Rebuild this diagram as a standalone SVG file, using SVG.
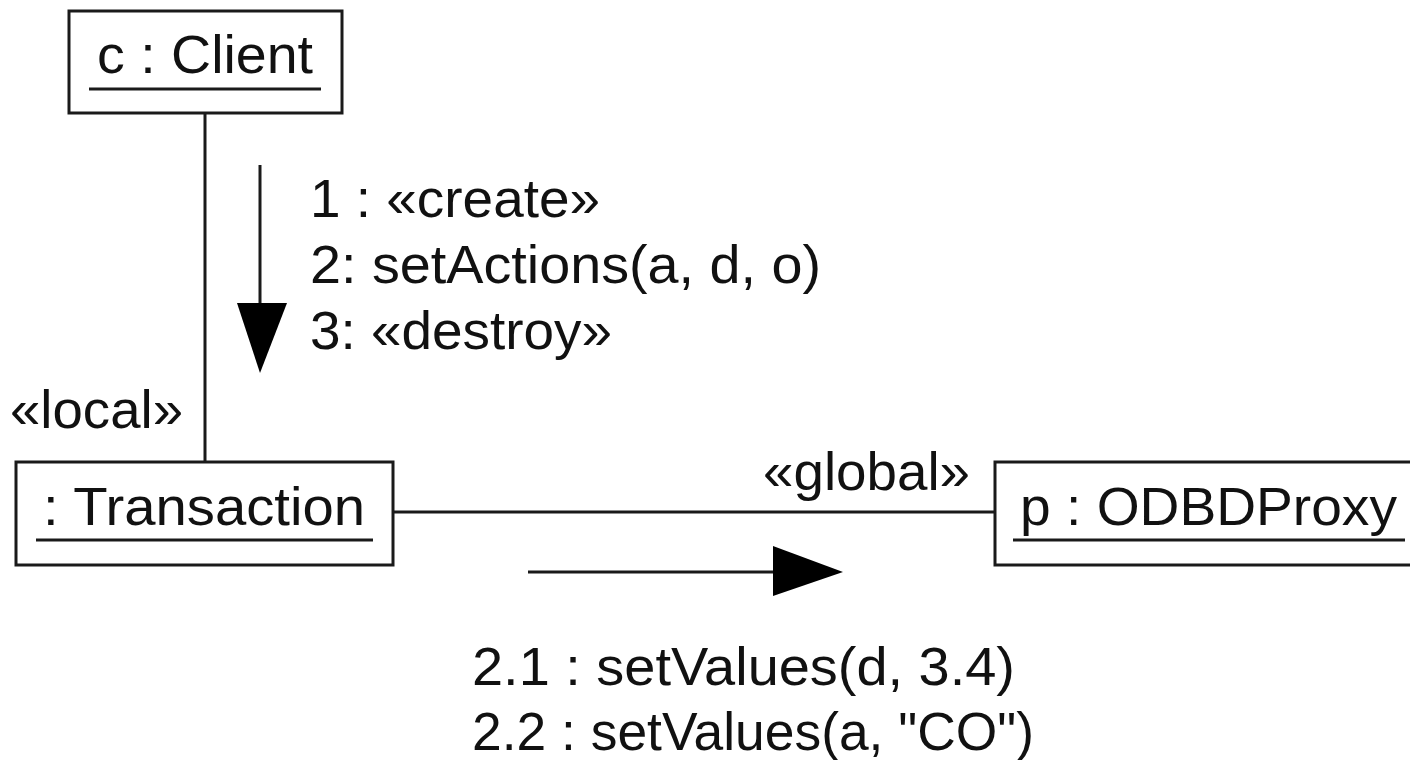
<svg xmlns="http://www.w3.org/2000/svg" width="1410" height="760" viewBox="0 0 1410 760">
<style>
.box{fill:#fff;stroke:#1a1a1a;stroke-width:3}
.ul{stroke:#1a1a1a;stroke-width:3}
.ln{stroke:#1a1a1a;stroke-width:3;fill:none}
.head{fill:#000}
text{font-family:"Liberation Sans",Arial,sans-serif;font-size:54px;fill:#111}
</style>
<rect width="1410" height="760" fill="#fff"/>
<g id="connectors">
<line class="ln" x1="205" y1="113" x2="205" y2="462"/>
<line class="ln" x1="393" y1="512" x2="995" y2="512"/>
<line class="ln" x1="260" y1="165" x2="260" y2="305"/>
<polygon class="head" points="237,303 287,303 260,373"/>
<line class="ln" x1="528" y1="572" x2="775" y2="572"/>
<polygon class="head" points="773,546 843,572 773,596"/>
<text x="310" y="217" textLength="290" lengthAdjust="spacingAndGlyphs">1 : «create»</text>
<text x="310" y="283" textLength="511" lengthAdjust="spacingAndGlyphs">2: setActions(a, d, o)</text>
<text x="310" y="349" textLength="302" lengthAdjust="spacingAndGlyphs">3: «destroy»</text>
<text x="10" y="428" textLength="173" lengthAdjust="spacingAndGlyphs">«local»</text>
<text x="763" y="490" textLength="207" lengthAdjust="spacingAndGlyphs">«global»</text>
<text x="472" y="685" textLength="543" lengthAdjust="spacingAndGlyphs">2.1 : setValues(d, 3.4)</text>
<text x="472" y="750" textLength="562" lengthAdjust="spacingAndGlyphs">2.2 : setValues(a, "CO")</text>
</g>
<g id="client">
<rect class="box" x="69" y="11" width="273" height="102"/>
<text x="97" y="73" textLength="216" lengthAdjust="spacingAndGlyphs">c : Client</text>
<line class="ul" x1="89" y1="89" x2="321" y2="89"/>
</g>
<g id="transaction">
<rect class="box" x="16" y="462" width="377" height="103"/>
<text x="43" y="525" textLength="322" lengthAdjust="spacingAndGlyphs">: Transaction</text>
<line class="ul" x1="36" y1="540" x2="373" y2="540"/>
</g>
<g id="proxy">
<rect class="box" x="995" y="462" width="430" height="103"/>
<text x="1020" y="525" textLength="377" lengthAdjust="spacingAndGlyphs">p : ODBDProxy</text>
<line class="ul" x1="1013" y1="540" x2="1405" y2="540"/>
</g>
</svg>
